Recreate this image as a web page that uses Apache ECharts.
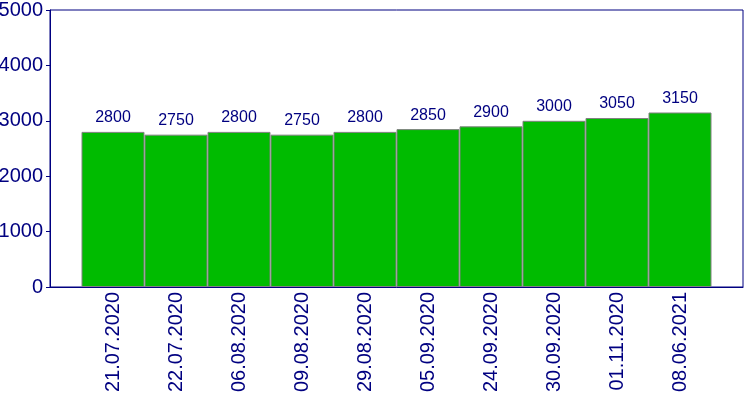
<!DOCTYPE html>
<html>
<head>
<meta charset="utf-8">
<script src="https://cdn.jsdelivr.net/npm/echarts@6/dist/echarts.min.js"></script>
<style>html,body{margin:0;padding:0;background:#fff;}#c{width:750px;height:400px;}</style>
</head>
<body>
<div id="c"></div>
<script>
const dates = ['21.07.2020','22.07.2020','06.08.2020','09.08.2020','29.08.2020','05.09.2020','24.09.2020','30.09.2020','01.11.2020','08.06.2021'];
const values = [2800,2750,2800,2750,2800,2850,2900,3000,3050,3150];
const yTicks = [0,1000,2000,3000,4000,5000];

// pad with empty slots so bars sit between half-slot margins
const cats = [''].concat(dates, ['']);
const data = [null].concat(values, [null]);

const navy = '#000080';
const chart = echarts.init(document.getElementById('c'), null, {renderer:'canvas'});
chart.setOption({
  animation: false,
  backgroundColor: '#fff',
  grid: {left: 50, right: 7, top: 10, bottom: 113, show: true, borderColor: navy, borderWidth: 1, containLabel: false, outerBoundsMode: 'none'},
  xAxis: {
    type: 'category', data: cats, boundaryGap: false,
    axisLine: {lineStyle: {color: navy, width: 1}},
    axisTick: {show: false},
    axisLabel: {rotate: 90, interval: 0, color: navy, fontSize: 20, fontFamily: 'Liberation Sans, Arial, sans-serif', margin: 5},
    splitLine: {show: false}
  },
  yAxis: {
    type: 'value', min: yTicks[0], max: yTicks[yTicks.length-1], interval: 1000,
    axisLine: {show: true, lineStyle: {color: navy, width: 1}},
    axisTick: {show: true, length: 4, lineStyle: {color: navy}},
    axisLabel: {color: navy, fontSize: 20, fontFamily: 'Liberation Sans, Arial, sans-serif', margin: 7, formatter: v => String(v)},
    splitLine: {show: false}
  },
  series: [{
    type: 'bar', data: data, barCategoryGap: '0%', barWidth: '100%',
    itemStyle: {color: '#00bb00', borderColor: '#808080', borderWidth: 1},
    label: {show: true, position: 'top', distance: 6, color: navy, fontSize: 16, fontFamily: 'Liberation Sans, Arial, sans-serif'}
  }]
});
</script>
</body>
</html>
